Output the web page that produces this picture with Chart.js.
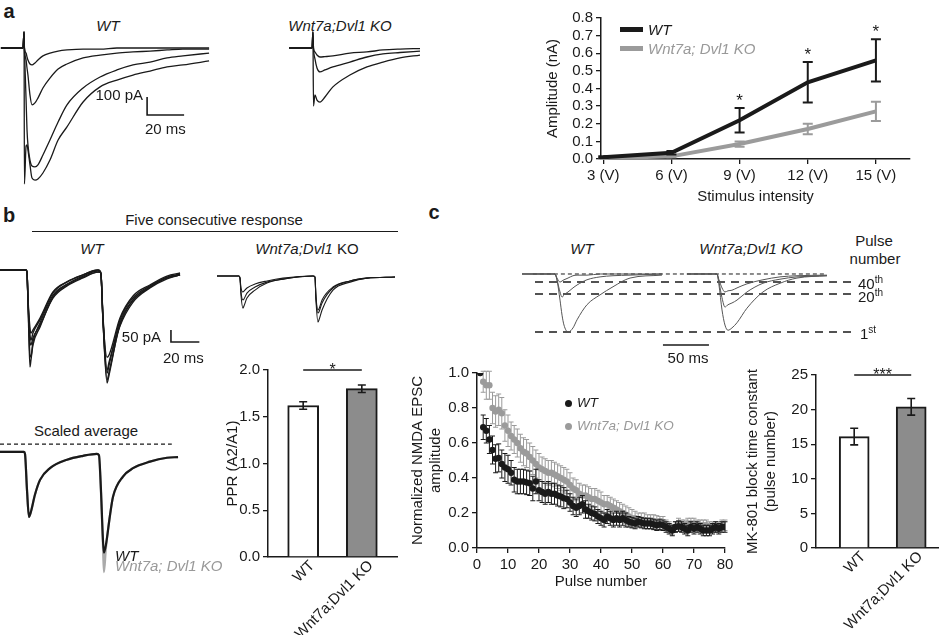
<!DOCTYPE html>
<html>
<head>
<meta charset="utf-8">
<title>Wnt7a;Dvl1 KO synaptic figure</title>
<script src="https://cdn.jsdelivr.net/npm/chart.js@4.4.1/dist/chart.umd.min.js"></script>
<style>
  html, body { margin: 0; padding: 0; background: #fff; }
  #fig { position: relative; width: 946px; height: 639px; overflow: hidden;
         font-family: "Liberation Sans", Arial, sans-serif; color: #1a1a1a; }
  #fig canvas { position: absolute; }
  .t { position: absolute; white-space: nowrap; line-height: 1; font-size: 15px; }
  .i { font-style: italic; }
  .g { color: #999; }
  .lbl { font-weight: bold; font-size: 20px; }
  .cc { transform: translate(-50%, -50%); }
  .lc { transform: translate(0, -50%); }
  .rc { transform: translate(-100%, -50%); }
  .sw { position: absolute; }
  sup { font-size: 10px; line-height: 0; }
</style>
</head>
<body>
<div id="fig">
  <!-- panel a -->
  <div class="t lbl cc" style="left:9px;top:11px">a</div>
  <div class="t i cc" style="left:108px;top:25px">WT</div>
  <div class="t i cc" style="left:340px;top:25px">Wnt7a;Dvl1 KO</div>
  <canvas id="aWT" width="215" height="165" style="left:0;top:28px;width:215px;height:165px"></canvas>
  <canvas id="aKO" width="140" height="165" style="left:285px;top:28px;width:140px;height:165px"></canvas>
  <div class="t rc" style="left:143px;top:94px">100 pA</div>
  <div class="t lc" style="left:145px;top:128px">20 ms</div>
  <canvas id="ampChart" width="390" height="205" style="left:540px;top:5px;width:390px;height:205px"></canvas>
  <div class="sw" style="left:620px;top:27px;width:23px;height:4.5px;background:#1a1a1a"></div>
  <div class="t i lc" style="left:648px;top:29px">WT</div>
  <div class="sw" style="left:620px;top:46px;width:23px;height:4.5px;background:#9b9b9b"></div>
  <div class="t i g lc" style="left:648px;top:48px">Wnt7a; Dvl1 KO</div>

  <!-- panel b -->
  <div class="t lbl cc" style="left:9px;top:215px">b</div>
  <div class="t cc" style="left:214px;top:219px">Five consecutive response</div>
  <div class="sw" style="left:32px;top:231px;width:366px;border-top:1.3px solid #1a1a1a"></div>
  <div class="t i cc" style="left:92px;top:248px">WT</div>
  <div class="t cc" style="left:307px;top:248px"><i>Wnt7a;Dvl1</i> KO</div>
  <canvas id="bWT" width="210" height="135" style="left:0;top:255px;width:210px;height:135px"></canvas>
  <canvas id="bKO" width="185" height="135" style="left:215px;top:255px;width:185px;height:135px"></canvas>
  <div class="t rc" style="left:161px;top:336px">50 pA</div>
  <div class="t lc" style="left:163px;top:357px">20 ms</div>
  <div class="t cc" style="left:86px;top:430px">Scaled average</div>
  <canvas id="bAvg" width="185" height="145" style="left:0;top:435px;width:185px;height:145px"></canvas>
  <div class="t i lc" style="left:115px;top:555px">WT</div>
  <div class="t i g lc" style="left:115px;top:565px">Wnt7a; Dvl1 KO</div>
  <canvas id="pprChart" width="185" height="280" style="left:220px;top:355px;width:185px;height:280px"></canvas>

  <!-- panel c -->
  <div class="t lbl cc" style="left:434px;top:212px">c</div>
  <div class="t i cc" style="left:582px;top:248px">WT</div>
  <div class="t i cc" style="left:751px;top:248px">Wnt7a;Dvl1 KO</div>
  <div class="t cc" style="left:874px;top:240px">Pulse</div>
  <div class="t cc" style="left:875px;top:258px">number</div>
  <canvas id="cTr" width="340" height="87" style="left:520px;top:265px;width:340px;height:87px"></canvas>
  <div class="t lc" style="left:858px;top:283px">40<sup>th</sup></div>
  <div class="t lc" style="left:858px;top:296px">20<sup>th</sup></div>
  <div class="t lc" style="left:860px;top:333px">1<sup>st</sup></div>
  <div class="t cc" style="left:688px;top:357px">50 ms</div>
  <canvas id="nmdaChart" width="335" height="235" style="left:405px;top:360px;width:335px;height:235px"></canvas>
  <div class="sw" style="left:564.5px;top:399.5px;width:7px;height:7px;border-radius:50%;background:#1a1a1a"></div>
  <div class="t i lc" style="left:577px;top:403px;font-size:13.5px">WT</div>
  <div class="sw" style="left:564.5px;top:422.5px;width:7px;height:7px;border-radius:50%;background:#9b9b9b"></div>
  <div class="t i g lc" style="left:577px;top:426px;font-size:13.5px">Wnt7a; Dvl1 KO</div>
  <canvas id="tauChart" width="206" height="277" style="left:740px;top:362px;width:206px;height:277px"></canvas>
</div>

<script>
// ===== Data: panel a =====
const voltages = [3, 6, 9, 12, 15];
const ampWT = [0.01, 0.035, 0.22, 0.435, 0.56];
const ampWTErr = [0.005, 0.01, 0.07, 0.115, 0.12];
const ampKO = [0.005, 0.015, 0.085, 0.17, 0.27];
const ampKOErr = [0.003, 0.005, 0.015, 0.03, 0.055];
const ampSig = [9, 12, 15];

// example traces (time in ms, current in pA)
const aTimeWT = [0.5, 12.4, 13.0, 13.2, 14.1, 14.6, 15.1, 16.2, 17.3, 18.9, 20.5, 23.2, 27.0, 31.4, 36.2, 44.9, 54.1, 63.2, 71.9, 81.1, 90.3, 98.9, 113.0];
const aWT1 = [0, 0, 89, 0, -28, -50, -67, -89, -94, -83, -67, -44, -28, -17, -11, -6, -6, 0, 0, 0, 0, 0, 0];
const aWT2 = [0, 0, 89, 0, -67, -111, -150, -261, -316, -305, -278, -222, -167, -117, -89, -55, -39, -28, -22, -17, -11, -6, -6];
const aWT3 = [0, 0, 89, 0, -289, -455, -538, -622, -655, -660, -649, -594, -511, -411, -316, -222, -161, -122, -94, -78, -55, -44, -28];
const aWT4 = [0, 0, 89, -755, -544, -538, -566, -649, -722, -733, -727, -694, -622, -511, -438, -300, -216, -178, -150, -128, -105, -94, -72];
const aTimeKO = [2.2, 14.6, 15.1, 15.4, 16.2, 17.3, 18.9, 21.6, 25.9, 35.1, 44.3, 53.0, 62.2, 73.0];
const aKO1 = [0, 0, 89, 0, -22, -39, -50, -48, -44, -28, -22, -11, -6, -3];
const aKO2 = [0, 0, 89, 0, -61, -111, -133, -122, -105, -78, -50, -33, -25, -17];
const aKO3 = [0, 0, 89, -322, -261, -289, -300, -272, -216, -150, -105, -78, -55, -39];
const aBarT = [79.5, 79.5, 99.5];
const aBarI = [-272, -372, -372];

// ===== Data: panel b =====
const bTimeWT = [0, 18.3, 19.0, 19.7, 21.1, 21.8, 23.2, 28.2, 37.3, 47.2, 58.5, 69.0, 70.4, 71.1, 72.5, 75.4, 76.8, 84.5, 93.7, 105.6, 117.6, 126.8];
const bWT1 = [0, 0, -9, -128, -414, -384, -320, -243, -115, -64, -30, -9, -9, -17, -213, -482, -448, -226, -128, -73, -34, -21];
const bWT2 = [0, 0, -9, -128, -363, -371, -307, -226, -107, -60, -26, -4, -9, -17, -213, -440, -406, -213, -119, -68, -30, -17];
const bWT3 = [0, 0, -9, -128, -278, -299, -269, -213, -98, -51, -21, 0, -4, -17, -205, -372, -363, -205, -111, -64, -26, -13];
const bWT4 = [0, 0, -9, -119, -248, -269, -256, -205, -94, -51, -21, 0, -4, -17, -192, -427, -393, -239, -137, -77, -38, -21];
const bWT5 = [0, 0, -9, -128, -307, -320, -290, -235, -120, -68, -34, -9, -9, -17, -205, -470, -436, -235, -128, -73, -34, -21];
const bTimeKO = [1.4, 16.9, 17.6, 18.3, 19.7, 20.4, 22.5, 28.2, 36.6, 47.9, 69.0, 70.4, 71.1, 72.5, 73.2, 75.4, 83.1, 95.1, 107.0, 126.8];
const bKO1 = [0, 0, -9, -81, -137, -128, -94, -60, -30, -13, 0, -4, -102, -196, -188, -145, -60, -26, -9, -4];
const bKO2 = [0, 0, -9, -68, -102, -98, -73, -47, -26, -13, 0, -4, -94, -158, -154, -115, -51, -21, -9, -4];
const bKO3 = [0, 0, -9, -51, -68, -64, -51, -34, -21, -9, 0, -4, -85, -145, -141, -102, -47, -21, -9, -4];
const bBarT = [120.4, 120.4, 140.4];
const bBarI = [-256, -307, -307];

// scaled average (normalised to first peak)
const avgTime = [0, 16.9, 17.6, 19.0, 20.4, 21.8, 24.6, 28.2, 35.2, 47.2, 58.5, 68.3, 69.7, 71.1, 72.5, 73.2, 74.6, 77.5, 79.6, 86.6, 93.7, 105.6, 117.6, 125.4];
const avgWT = [0, 0, -0.03, -0.58, -1.0, -0.92, -0.66, -0.43, -0.25, -0.12, -0.06, -0.03, -0.05, -0.58, -1.35, -1.55, -1.43, -0.97, -0.69, -0.38, -0.25, -0.15, -0.09, -0.08];
const avgKO = [0, 0, -0.03, -0.58, -1.0, -0.92, -0.66, -0.43, -0.25, -0.12, -0.06, -0.03, -0.05, -0.62, -1.43, -1.85, -1.48, -0.97, -0.69, -0.38, -0.25, -0.15, -0.09, -0.08];
const avgDashT = [0, 121];
const avgDashV = [0.12, 0.12];

const groups = ['WT', 'Wnt7a;Dvl1 KO'];
const pprMean = [1.62, 1.80];
const pprErr = [0.04, 0.04];

// ===== Data: panel c =====
const cTimeWT = [2.2, 38.0, 40.2, 43.5, 45.7, 47.8, 52.2, 57.6, 62.0, 72.8, 87.0, 101.1, 119.6, 154.3];
const cWT1 = [0, 0, -0.10, -0.45, -0.71, -0.88, -1.0, -0.93, -0.79, -0.53, -0.36, -0.22, -0.07, -0.02];
const cWT20 = [0, 0, -0.10, -0.31, -0.40, -0.36, -0.31, -0.24, -0.19, -0.10, -0.05, -0.03, -0.02, 0];
const cWT40 = [0, 0, -0.07, -0.14, -0.12, -0.10, -0.07, -0.03, -0.02, -0.02, 0, 0, 0, 0];
const cTimeKO = [181.5, 214.1, 216.3, 219.6, 222.8, 226.1, 230.4, 235.9, 246.7, 264.1, 282.6, 301.1, 333.7];
const cKO1 = [0, 0, -0.19, -0.62, -0.88, -0.97, -0.93, -0.84, -0.59, -0.31, -0.16, -0.07, -0.03];
const cKO20 = [0, 0, -0.14, -0.41, -0.57, -0.53, -0.50, -0.45, -0.31, -0.16, -0.09, -0.05, -0.03];
const cKO40 = [0, 0, -0.10, -0.24, -0.31, -0.29, -0.28, -0.24, -0.17, -0.10, -0.05, -0.03, -0.02];
const pulseLevels = [-0.14, -0.345, -1.0];
const levelSpan = [16.3, 361];
const baseSpan = [14, 333];
const cBarT = [155.4, 205.4];
const cBarV = [-1.224, -1.224];

const nmdaWT = [1.00, 0.69, 0.67, 0.62, 0.56, 0.51, 0.515, 0.48, 0.46, 0.45,
  0.43, 0.39, 0.38, 0.38, 0.38, 0.375, 0.37, 0.34, 0.38, 0.33,
  0.32, 0.31, 0.32, 0.31, 0.31, 0.30, 0.295, 0.285, 0.28, 0.26,
  0.24, 0.23, 0.24, 0.25, 0.22, 0.21, 0.20, 0.195, 0.18, 0.17,
  0.16, 0.18, 0.17, 0.16, 0.17, 0.16, 0.17, 0.16, 0.15, 0.145,
  0.14, 0.15, 0.145, 0.14, 0.14, 0.14, 0.135, 0.13, 0.135, 0.13,
  0.12, 0.11, 0.10, 0.12, 0.125, 0.12, 0.11, 0.10, 0.12, 0.11,
  0.12, 0.11, 0.10, 0.10, 0.10, 0.11, 0.12, 0.11, 0.12, 0.12];
const nmdaWTErr = [0, 0.07, 0.07, 0.08, 0.08, 0.08, 0.08, 0.08, 0.08, 0.08,
  0.07, 0.07, 0.07, 0.07, 0.07, 0.07, 0.07, 0.07, 0.07, 0.06,
  0.06, 0.06, 0.06, 0.06, 0.06, 0.06, 0.06, 0.06, 0.05, 0.05,
  0.05, 0.05, 0.05, 0.05, 0.05, 0.04, 0.04, 0.04, 0.04, 0.04,
  0.04, 0.04, 0.04, 0.04, 0.04, 0.04, 0.04, 0.04, 0.03, 0.03,
  0.03, 0.03, 0.03, 0.03, 0.03, 0.03, 0.03, 0.03, 0.03, 0.03,
  0.03, 0.03, 0.03, 0.03, 0.03, 0.03, 0.03, 0.03, 0.03, 0.03,
  0.03, 0.03, 0.03, 0.03, 0.03, 0.03, 0.03, 0.03, 0.03, 0.03];
const nmdaKO = [1.00, 0.95, 0.93, 0.93, 0.80, 0.78, 0.79, 0.77, 0.70, 0.67,
  0.64, 0.62, 0.60, 0.57, 0.55, 0.54, 0.52, 0.50, 0.48, 0.46,
  0.45, 0.44, 0.43, 0.43, 0.42, 0.41, 0.40, 0.39, 0.38, 0.36,
  0.34, 0.33, 0.31, 0.30, 0.30, 0.29, 0.28, 0.28, 0.27, 0.26,
  0.25, 0.25, 0.24, 0.23, 0.22, 0.21, 0.20, 0.19, 0.18, 0.17,
  0.17, 0.16, 0.16, 0.16, 0.15, 0.15, 0.15, 0.145, 0.14, 0.14,
  0.13, 0.12, 0.105, 0.12, 0.14, 0.13, 0.13, 0.14, 0.14, 0.14,
  0.13, 0.13, 0.13, 0.13, 0.12, 0.12, 0.12, 0.12, 0.13, 0.13];
const nmdaKOErr = [0, 0.06, 0.08, 0.08, 0.09, 0.09, 0.09, 0.09, 0.09, 0.09,
  0.08, 0.08, 0.08, 0.08, 0.08, 0.08, 0.08, 0.08, 0.08, 0.08,
  0.07, 0.07, 0.07, 0.07, 0.07, 0.07, 0.07, 0.07, 0.07, 0.07,
  0.06, 0.06, 0.06, 0.06, 0.06, 0.06, 0.06, 0.06, 0.06, 0.06,
  0.05, 0.05, 0.05, 0.05, 0.05, 0.05, 0.05, 0.05, 0.05, 0.05,
  0.04, 0.04, 0.04, 0.04, 0.04, 0.04, 0.04, 0.04, 0.04, 0.04,
  0.03, 0.03, 0.03, 0.03, 0.03, 0.03, 0.03, 0.03, 0.03, 0.03,
  0.03, 0.03, 0.03, 0.03, 0.03, 0.03, 0.03, 0.03, 0.03, 0.03];

const tauMean = [16.1, 20.4];
const tauErr = [1.2, 1.2];

// ===== Shared settings =====
const INK = '#1a1a1a';
const GREY = '#9b9b9b';
Chart.defaults.font.family = '"Liberation Sans", Arial, sans-serif';
Chart.defaults.font.size = 15;
Chart.defaults.color = INK;

const pts = (xs, ys) => xs.map((x, i) => ({ x: x, y: ys[i] }));

// error bars drawn from each dataset's `errors` array
const errorBars = {
  id: 'errorBars',
  afterDatasetDraw(chart, args) {
    const ds = chart.data.datasets[args.index];
    if (!ds.errors) return;
    const ys = chart.scales[args.meta.yAxisID];
    const ctx = chart.ctx;
    ctx.save();
    ctx.strokeStyle = ds.errorColor;
    ctx.lineWidth = ds.errorWidth;
    args.meta.data.forEach((el, j) => {
      const err = ds.errors[j];
      if (!err) return;
      const raw = ds.data[j];
      const v = typeof raw === 'object' ? raw.y : raw;
      const top = ys.getPixelForValue(v + err);
      const bot = ys.getPixelForValue(v - err);
      const half = ds.capWidth / 2;
      ctx.beginPath();
      ctx.moveTo(el.x, top); ctx.lineTo(el.x, bot);
      ctx.moveTo(el.x - half, top); ctx.lineTo(el.x + half, top);
      ctx.moveTo(el.x - half, bot); ctx.lineTo(el.x + half, bot);
      ctx.stroke();
    });
    ctx.restore();
  }
};

// asterisks above WT error bars (panel a)
const stars = {
  id: 'stars',
  afterDatasetsDraw(chart) {
    const ctx = chart.ctx;
    ctx.save();
    ctx.fillStyle = INK;
    ctx.font = '17px "Liberation Sans", Arial, sans-serif';
    ctx.textAlign = 'center';
    ctx.textBaseline = 'alphabetic';
    ampSig.forEach(v => {
      const i = voltages.indexOf(v);
      const x = chart.scales.x.getPixelForValue(v);
      const y = chart.scales.y.getPixelForValue(ampWT[i] + ampWTErr[i]);
      ctx.fillText('*', x, y - 2);
    });
    ctx.restore();
  }
};

// significance bracket between the two bars
const sigBar = {
  id: 'sigBar',
  afterDatasetsDraw(chart, args, opts) {
    const meta = chart.getDatasetMeta(0);
    const x1 = meta.data[0].x, x2 = meta.data[1].x;
    const y = chart.scales.y.getPixelForValue(opts.value);
    const ctx = chart.ctx;
    ctx.save();
    ctx.strokeStyle = INK;
    ctx.lineWidth = 1.5;
    ctx.beginPath(); ctx.moveTo(x1, y); ctx.lineTo(x2, y); ctx.stroke();
    ctx.fillStyle = INK;
    ctx.font = '16px "Liberation Sans", Arial, sans-serif';
    ctx.textAlign = 'center';
    ctx.textBaseline = 'alphabetic';
    ctx.fillText(opts.text, (x1 + x2) / 2, y + 5);
    ctx.restore();
  }
};

function axis(extra) {
  return Object.assign({
    grid: { display: true, drawOnChartArea: false, drawTicks: true, tickLength: 5, color: INK, lineWidth: 1.3 },
    border: { display: true, color: INK, width: 1.5 },
  }, extra);
}

const quiet = { legend: { display: false }, tooltip: { enabled: false } };

// ===== Trace panels =====
function trace(time, values, color, width, dash) {
  return {
    data: pts(time, values), borderColor: color, borderWidth: width,
    borderDash: dash || [], pointRadius: 0, cubicInterpolationMode: 'monotone', fill: false
  };
}

function straight(time, values, color, width, dash) {
  return Object.assign(trace(time, values, color, width, dash), { cubicInterpolationMode: 'default', tension: 0 });
}

function traceChart(id, xMax, yMin, yMax, datasets) {
  return new Chart(document.getElementById(id), {
    type: 'line',
    data: { datasets: datasets },
    options: {
      responsive: false, animation: false, events: [],
      layout: { padding: 0 },
      plugins: quiet,
      scales: {
        x: { type: 'linear', display: false, min: 0, max: xMax },
        y: { type: 'linear', display: false, min: yMin, max: yMax }
      }
    }
  });
}

traceChart('aWT', 116.2, -805, 111, [
  trace(aTimeWT, aWT1, INK, 1.3), trace(aTimeWT, aWT2, INK, 1.3),
  trace(aTimeWT, aWT3, INK, 1.3), trace(aTimeWT, aWT4, INK, 1.3),
  straight(aBarT, aBarI, INK, 1.6)
]);
traceChart('aKO', 75.7, -805, 111, [
  trace(aTimeKO, aKO1, INK, 1.3), trace(aTimeKO, aKO2, INK, 1.3), trace(aTimeKO, aKO3, INK, 1.3)
]);

traceChart('bWT', 147.9, -512, 64, [
  trace(bTimeWT, bWT1, INK, 1.4), trace(bTimeWT, bWT2, INK, 1.4), trace(bTimeWT, bWT3, INK, 1.4),
  trace(bTimeWT, bWT4, INK, 1.4), trace(bTimeWT, bWT5, INK, 1.4),
  straight(bBarT, bBarI, INK, 1.6)
]);
traceChart('bKO', 130.3, -487, 90, [
  trace(bTimeKO, bKO1, INK, 1.1), trace(bTimeKO, bKO2, INK, 1.1), trace(bTimeKO, bKO3, INK, 1.1)
]);
traceChart('bAvg', 130.3, -1.97, 0.26, [
  trace(avgTime, avgWT, INK, 2.2),
  trace(avgTime, avgKO, '#aaaaaa', 2.2),
  straight(avgDashT, avgDashV, INK, 1.2, [4, 3])
]);

const levelLines = pulseLevels.map(v => straight(levelSpan, [v, v], INK, 1.5, [8, 6]));
traceChart('cTr', 369.6, -1.345, 0.155, [
  trace(cTimeWT, cWT1, '#555', 1), trace(cTimeWT, cWT20, '#555', 1), trace(cTimeWT, cWT40, '#555', 1),
  trace(cTimeKO, cKO1, '#555', 1), trace(cTimeKO, cKO20, '#555', 1), trace(cTimeKO, cKO40, '#555', 1),
  straight(baseSpan, [0, 0], INK, 1, [4, 3]),
  ...levelLines,
  straight(cBarT, cBarV, INK, 1.6)
]);

// ===== Amplitude vs stimulus intensity =====
new Chart(document.getElementById('ampChart'), {
  type: 'line',
  data: {
    datasets: [
      { data: pts(voltages, ampWT), borderColor: INK, borderWidth: 4, pointRadius: 0, tension: 0,
        errors: ampWTErr, errorColor: INK, errorWidth: 2, capWidth: 10 },
      { data: pts(voltages, ampKO), borderColor: GREY, borderWidth: 4, pointRadius: 0, tension: 0,
        errors: ampKOErr, errorColor: GREY, errorWidth: 2, capWidth: 10 }
    ]
  },
  options: {
    responsive: false, animation: false, events: [],
    layout: { padding: { top: 13, right: 20 } },
    plugins: quiet,
    scales: {
      x: axis({
        type: 'linear', min: 2.9, max: 16.5,
        afterBuildTicks: s => { s.ticks = voltages.map(v => ({ value: v })); },
        afterFit: s => { s.height = 51; },
        ticks: { padding: 3, maxRotation: 0, autoSkip: false, callback: v => v + ' (V)' },
        title: { display: true, text: 'Stimulus intensity', padding: { top: 2, bottom: 4 } }
      }),
      y: axis({
        min: 0, max: 0.8,
        afterFit: s => { s.width = 61; },
        ticks: { stepSize: 0.1, padding: 3, autoSkip: false, callback: v => v.toFixed(1) },
        title: { display: true, text: 'Amplitude (nA)' }
      })
    }
  },
  plugins: [errorBars, stars]
});

// ===== Bar charts =====
function barChart(id, means, errs, offset, xMax, yMax, step, digits, yTitle, yWidth, xHeight, pad, sig, thick) {
  return new Chart(document.getElementById(id), {
    type: 'bar',
    data: {
      datasets: [{
        data: means.map((m, i) => ({ x: i + offset, y: m })),
        backgroundColor: ['#ffffff', '#8c8c8c'], borderColor: INK, borderWidth: 2,
        barThickness: thick,
        errors: errs, errorColor: INK, errorWidth: 1.6, capWidth: 8
      }]
    },
    options: {
      responsive: false, animation: false, events: [],
      layout: { padding: pad },
      plugins: Object.assign({ sigBar: sig }, quiet),
      scales: {
        x: {
          type: 'linear', min: 0, max: xMax, offset: false,
          grid: { display: false, drawTicks: false, offset: false },
          border: { display: true, color: INK, width: 1.5 },
          afterBuildTicks: s => { s.ticks = groups.map((g, i) => ({ value: i + offset })); },
          afterFit: s => { s.height = xHeight; },
          ticks: { minRotation: 45, maxRotation: 45, padding: 0, labelOffset: 9, autoSkip: false,
                   callback: (v, i) => groups[i] }
        },
        y: axis({
          min: 0, max: yMax,
          afterFit: s => { s.width = yWidth; },
          ticks: { stepSize: step, padding: 3, autoSkip: false, callback: v => v.toFixed(digits) },
          title: { display: true, text: yTitle }
        })
      }
    },
    plugins: [errorBars, sigBar]
  });
}

barChart('pprChart', pprMean, pprErr, 0.6, 2.2, 2.0, 0.5, 1, 'PPR (A2/A1)', 48, 78,
  { top: 15, right: 8 }, { value: 2.0, text: '*' }, 31);
barChart('tauChart', tauMean, tauErr, 0.67, 2.14, 25, 5, 0, ['MK-801 block time constant', '(pulse number)'], 76, 91,
  { top: 13, right: 8 }, { value: 25, text: '***' }, 30);

// ===== Normalized NMDA EPSC vs pulse =====
const pulseNo = nmdaWT.map((v, i) => i + 1);
new Chart(document.getElementById('nmdaChart'), {
  type: 'scatter',
  data: {
    datasets: [
      { data: pts(pulseNo, nmdaWT), pointRadius: 3.2, pointBackgroundColor: INK, pointBorderWidth: 0,
        errors: nmdaWTErr, errorColor: INK, errorWidth: 1, capWidth: 5 },
      { data: pts(pulseNo, nmdaKO), pointRadius: 3.2, pointBackgroundColor: GREY, pointBorderWidth: 0,
        errors: nmdaKOErr, errorColor: GREY, errorWidth: 1, capWidth: 5 }
    ]
  },
  options: {
    responsive: false, animation: false, events: [],
    layout: { padding: { top: 13, right: 15 } },
    plugins: quiet,
    scales: {
      x: axis({
        type: 'linear', min: 0, max: 80,
        afterFit: s => { s.height = 47; },
        ticks: { stepSize: 10, padding: 3, maxRotation: 0, autoSkip: false },
        title: { display: true, text: 'Pulse number', padding: { top: 2, bottom: 4 } }
      }),
      y: axis({
        min: 0, max: 1,
        afterFit: s => { s.width = 72; },
        ticks: { stepSize: 0.2, padding: 3, autoSkip: false, callback: v => v.toFixed(1) },
        title: { display: true, text: ['Normalized NMDA EPSC', 'amplitude'] }
      })
    }
  },
  plugins: [errorBars]
});
</script>
</body>
</html>
